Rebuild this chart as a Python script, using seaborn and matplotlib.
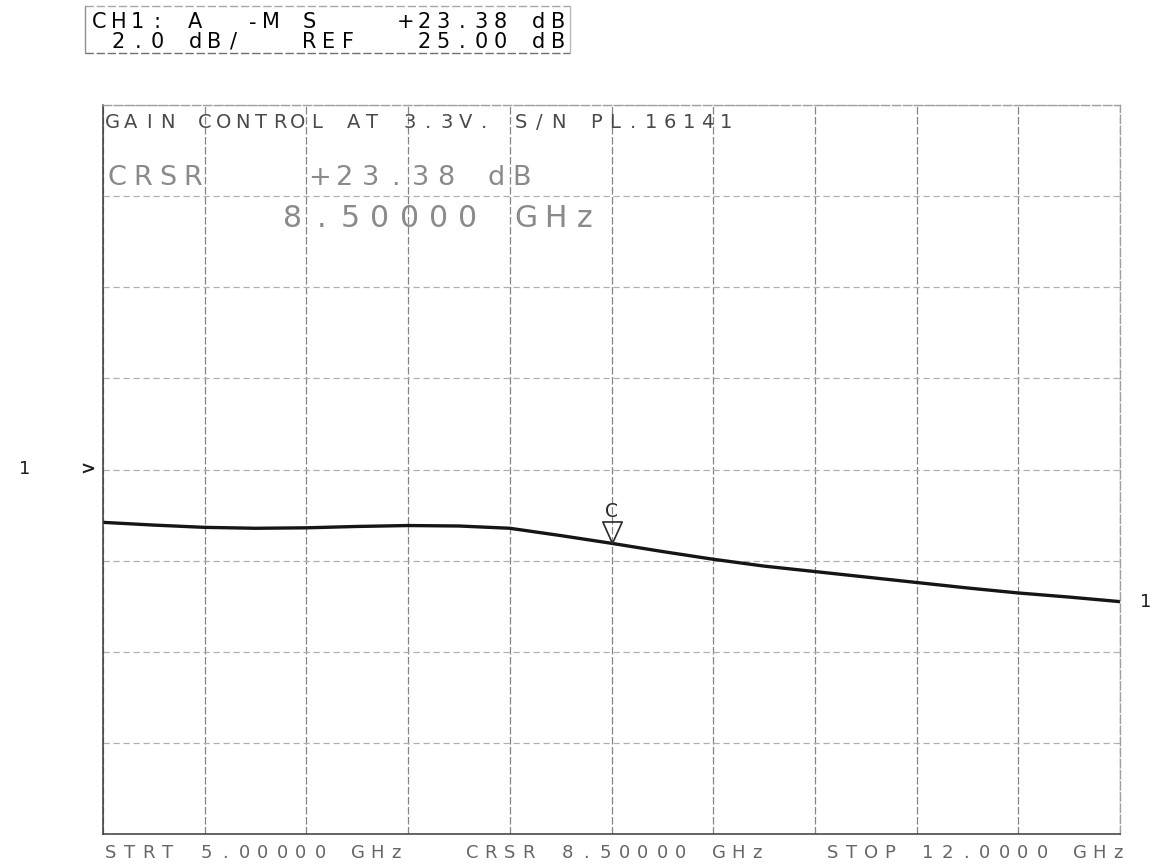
import numpy as np
import pandas as pd
import seaborn as sns
import matplotlib
matplotlib.use("Agg")
import matplotlib.pyplot as plt
from matplotlib.lines import Line2D
from matplotlib.path import Path

# ---- measured trace: channel 1, S21 gain vs frequency ----
freq_ghz = [5.0, 5.35, 5.7, 6.05, 6.4, 6.75, 7.1, 7.45, 7.8, 8.15, 8.5,
            8.85, 9.2, 9.55, 9.9, 10.25, 10.6, 10.95, 11.3, 11.65, 12.0]
gain_db = [23.84, 23.78, 23.73, 23.71, 23.72, 23.75, 23.77, 23.76, 23.71, 23.55, 23.38,
           23.20, 23.03, 22.88, 22.76, 22.64, 22.52, 22.40, 22.29, 22.20, 22.10]

start_ghz, stop_ghz = 5.0, 12.0
ref_db, db_per_div, n_ydiv, n_xdiv = 25.0, 2.0, 8, 10
cursor_ghz, cursor_db = 8.5, 23.38

header_lines = ["CH1: A  -M S    +23.38 dB",
                " 2.0 dB/   REF   25.00 dB"]
title_text = "GAIN CONTROL AT 3.3V. S/N PL.16141"
crsr_line1 = "CRSR    +23.38 dB"
crsr_line2 = "8.50000 GHz"
footer_text = "STRT 5.00000 GHz   CRSR 8.50000 GHz   STOP 12.0000 GHz"

df = pd.DataFrame({"freq": freq_ghz, "gain": gain_db})

W, H = 1153, 865
sns.set_theme(style="white")
plt.rcParams["font.family"] = ["DejaVu Sans"]

fig = plt.figure(figsize=(W / 100, H / 100), dpi=100)
fig.patch.set_facecolor("white")
ax = fig.add_axes([103 / W, 1 - 834 / H, 1017 / W, 729 / H])

sns.lineplot(data=df, x="freq", y="gain", ax=ax, color="#151515", lw=2.4,
             solid_capstyle="round", solid_joinstyle="round")

y_lo = ref_db - db_per_div * n_ydiv / 2
y_hi = ref_db + db_per_div * n_ydiv / 2
ax.set_xlim(start_ghz, stop_ghz)
ax.set_ylim(y_lo, y_hi)
ax.set_xticks(np.linspace(start_ghz, stop_ghz, n_xdiv + 1))
ax.set_yticks(np.linspace(y_lo, y_hi, n_ydiv + 1))
ax.set_xticklabels([])
ax.set_yticklabels([])
ax.tick_params(length=0)
ax.set_xlabel("")
ax.set_ylabel("")
ax.xaxis.grid(True, color="#858585", lw=0.9, ls=(0, (6, 2)))
ax.yaxis.grid(True, color="#b0b0b0", lw=0.9, ls=(0, (5, 3)))
for side in ("left", "bottom"):
    ax.spines[side].set_visible(True)
    ax.spines[side].set_color("#3a3a3a")
    ax.spines[side].set_linewidth(1.1)
for side in ("top", "right"):
    ax.spines[side].set_visible(True)
    ax.spines[side].set_color("#a0a0a0")
    ax.spines[side].set_linewidth(1.0)
    ax.spines[side].set_linestyle((0, (6, 2)))


def plotter_text(x0, y_base, s, pitch, size, color):
    """Pen-plotter style lettering: each character in a fixed-pitch cell."""
    for i, ch in enumerate(s):
        if ch == " ":
            continue
        fig.text((x0 + i * pitch) / W, 1 - y_base / H, ch, ha="center",
                 va="baseline", fontsize=size, color=color,
                 family=["DejaVu Sans"])


# header box
plotter_text(99.5, 28.5, header_lines[0], 19.1, 15, "#050505")
plotter_text(99.5, 47.5, header_lines[1], 19.1, 15, "#050505")
for (x0, y0, x1, y1, c, ls) in [(85, 6, 570, 6, "#a8a8a8", (0, (6, 2))),
                               (85, 53, 570, 53, "#707070", (0, (6, 2))),
                               (85, 6, 85, 53, "#909090", "-"),
                               (570, 6, 570, 53, "#b8b8b8", "-")]:
    fig.add_artist(Line2D([x0 / W, x1 / W], [1 - y0 / H, 1 - y1 / H],
                          color=c, lw=1.0, ls=ls))

# annotations inside the graticule
plotter_text(112, 128, title_text, 18.6, 14, "#4a4a4a")
plotter_text(117, 185, crsr_line1, 25.3, 19.5, "#8a8a8a")
plotter_text(292, 227, crsr_line2, 29.3, 21.5, "#8a8a8a")
plotter_text(111, 858, footer_text, 19.0, 13, "#666666")

# cursor marker: open triangle with its apex on the trace, "C" above it
tri = Path([(0, 0), (-0.45, 1.0), (0.45, 1.0), (0, 0)],
           [Path.MOVETO, Path.LINETO, Path.LINETO, Path.CLOSEPOLY])
ax.plot([cursor_ghz], [cursor_db], marker=tri, markersize=31, mfc="none",
        mec="#2a2a2a", mew=1.2, ls="none")
ax.annotate("C", xy=(cursor_ghz, cursor_db), xytext=(0, 26),
            textcoords="offset pixels", ha="center", va="baseline",
            fontsize=13.5, color="#2a2a2a")

# reference-position pointer and channel labels
ax.annotate(">", xy=(start_ghz, ref_db), xytext=(-15, 0),
            textcoords="offset pixels", ha="center", va="center",
            fontsize=13, color="#1c1c1c", fontweight="bold")
ax.annotate("1", xy=(start_ghz, ref_db), xytext=(-78, 0),
            textcoords="offset pixels", ha="center", va="center",
            fontsize=13, color="#1c1c1c")
ax.annotate("1", xy=(freq_ghz[-1], gain_db[-1]), xytext=(26, 0),
            textcoords="offset pixels", ha="center", va="center",
            fontsize=13, color="#1c1c1c")

fig.savefig("out.png", dpi=100, facecolor="white")
